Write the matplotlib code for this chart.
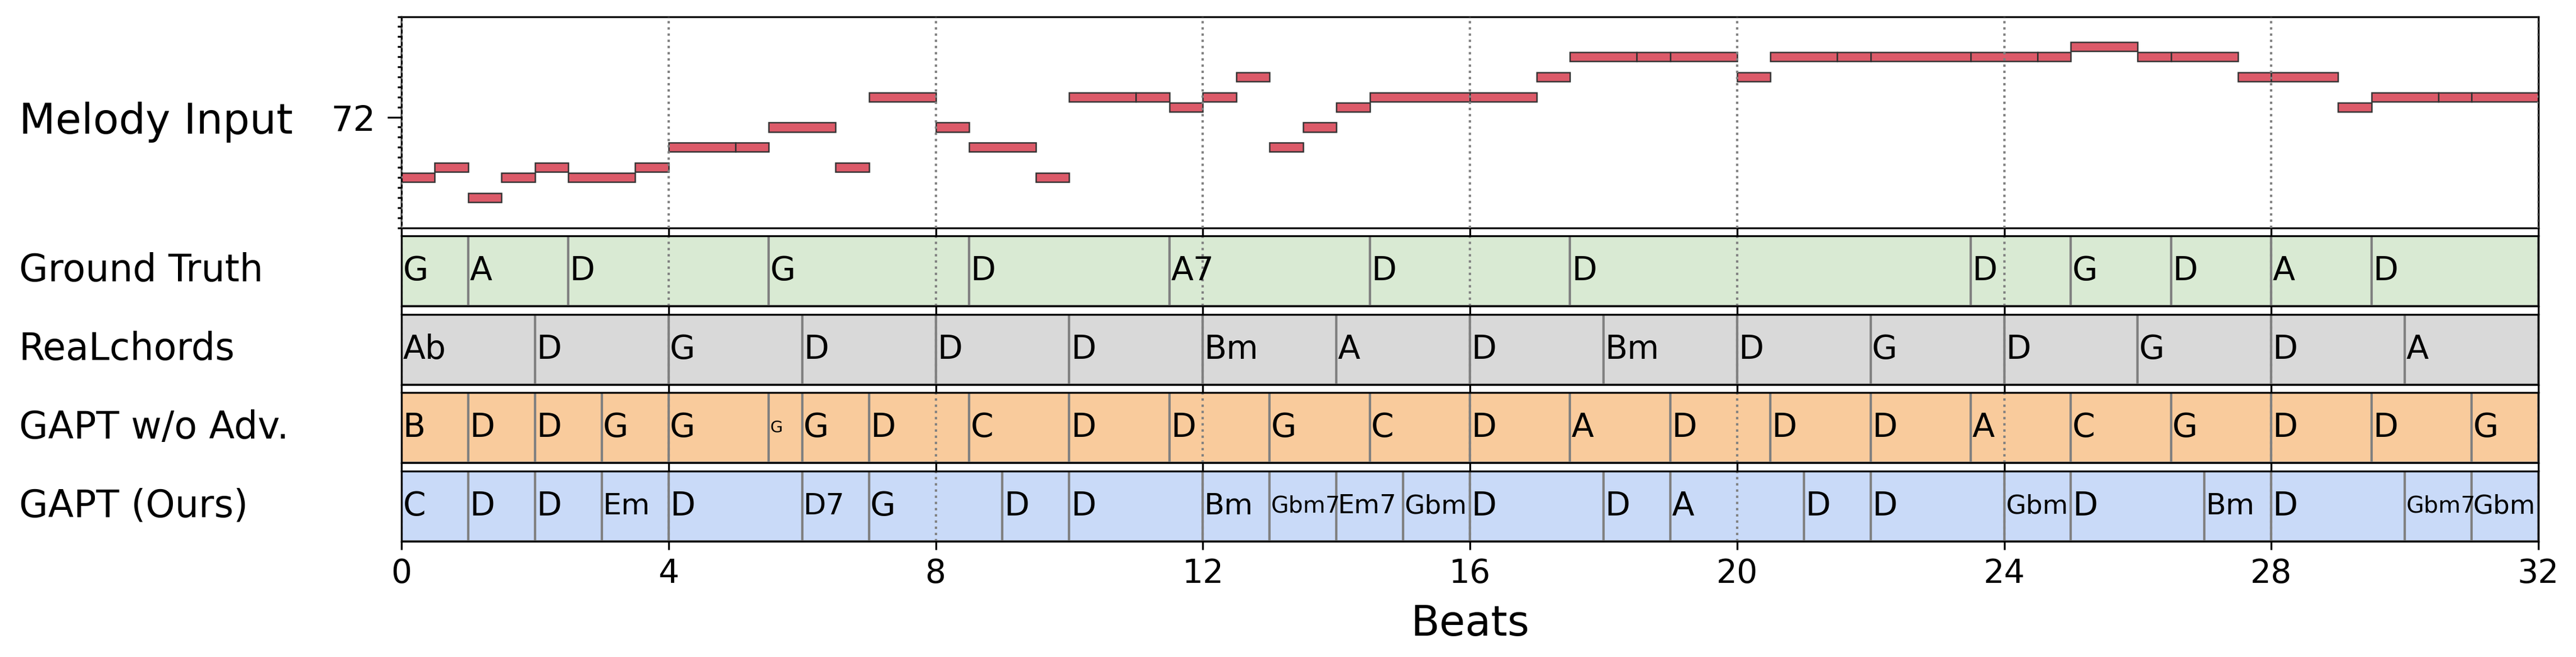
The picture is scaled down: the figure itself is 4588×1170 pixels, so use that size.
import matplotlib
matplotlib.use("Agg")
import matplotlib.pyplot as plt
from matplotlib.ticker import MultipleLocator

# ---------------- data ----------------
melody_starts = [0, 0.5, 1, 1.5, 2, 2.5, 3.5, 4, 5, 5.5, 6.5, 7, 8, 8.5, 9.5,
                 10, 11, 11.5, 12, 12.5, 13, 13.5, 14, 14.5, 16, 17, 17.5, 18.5,
                 19, 20, 20.5, 21.5, 22, 23.5, 24.5, 25, 26, 26.5, 27.5, 28, 29,
                 29.5, 30.5, 31]
melody_durs = [0.5, 0.5, 0.5, 0.5, 0.5, 1, 0.5, 1, 0.5, 1, 0.5, 1, 0.5, 1, 0.5,
               1, 0.5, 0.5, 0.5, 0.5, 0.5, 0.5, 0.5, 1.5, 1, 0.5, 1, 0.5,
               1, 0.5, 1, 0.5, 1.5, 1, 0.5, 1, 0.5, 1, 0.5, 1, 0.5,
               1, 0.5, 1]
melody_pitches = [66, 67, 64, 66, 67, 66, 67, 69, 69, 71, 67, 74, 71, 69, 66,
                  74, 74, 73, 74, 76, 69, 71, 73, 74, 74, 76, 78, 78,
                  78, 76, 78, 78, 78, 78, 78, 79, 78, 78, 76, 76, 73,
                  74, 74, 74]

total_beats = 32

gt_labels = ['G', 'A', 'D', 'G', 'D', 'A7', 'D', 'D', 'D', 'G', 'D', 'A', 'D']
gt_starts = [0, 1, 2.5, 5.5, 8.5, 11.5, 14.5, 17.5, 23.5, 25, 26.5, 28, 29.5]

rc_labels = ['Ab', 'D', 'G', 'D', 'D', 'D', 'Bm', 'A', 'D', 'Bm', 'D', 'G',
             'D', 'G', 'D', 'A']
rc_starts = [0, 2, 4, 6, 8, 10, 12, 14, 16, 18, 20, 22, 24, 26, 28, 30]

noadv_labels = ['B', 'D', 'D', 'G', 'G', 'G', 'G', 'D', 'C', 'D', 'D', 'G',
                'C', 'D', 'A', 'D', 'D', 'D', 'A', 'C', 'G', 'D', 'D', 'G']
noadv_starts = [0, 1, 2, 3, 4, 5.5, 6, 7, 8.5, 10, 11.5, 13,
                14.5, 16, 17.5, 19, 20.5, 22, 23.5, 25, 26.5, 28, 29.5, 31]

gapt_labels = ['C', 'D', 'D', 'Em', 'D', 'D7', 'G', 'D', 'D', 'Bm', 'Gbm7',
               'Em7', 'Gbm', 'D', 'D', 'A', 'D', 'D', 'Gbm', 'D', 'Bm', 'D',
               'Gbm7', 'Gbm']
gapt_starts = [0, 1, 2, 3, 4, 6, 7, 9, 10, 12, 13,
               14, 15, 16, 18, 19, 21, 22, 24, 25, 27, 28,
               30, 31]

row_names = ['Ground Truth', 'ReaLchords', 'GAPT w/o Adv.', 'GAPT (Ours)']
row_colors = ['#D9EAD3', '#D9D9D9', '#F9CB9C', '#C9DAF8']
row_labels = [gt_labels, rc_labels, noadv_labels, gapt_labels]
row_starts = [gt_starts, rc_starts, noadv_starts, gapt_starts]

# ---------------- figure ----------------
W, H, DPI = 4588, 1170, 300
fig = plt.figure(figsize=(W / DPI, H / DPI), dpi=DPI)


def px_axes(left, top, right, bottom):
    return fig.add_axes([left / W, 1 - bottom / H, (right - left) / W,
                         (bottom - top) / H])


AX_L, AX_R = 715, 4521

# melody axes
axm = px_axes(AX_L, 29.5, AX_R, 405.5)
axm.barh(melody_pitches, melody_durs, left=melody_starts, height=0.9,
         color='#DC5A69', edgecolor='#333333', linewidth=0.6, zorder=2)
pmin, pmax = min(melody_pitches), max(melody_pitches)
axm.set_ylim(pmin - 3, pmax + 3)
axm.set_xlim(0, total_beats)
axm.yaxis.set_major_locator(MultipleLocator(12))
axm.yaxis.set_minor_locator(MultipleLocator(1))
axm.tick_params(axis='y', which='major', length=6, width=0.8, labelsize=15, pad=5)
axm.tick_params(axis='y', which='minor', length=1.6, width=0.8)
axm.xaxis.set_major_locator(MultipleLocator(4))
axm.tick_params(axis='x', which='major', length=3.5, width=0.8, labelbottom=False)
for b in range(0, total_beats + 1, 4):
    axm.axvline(b, color='gray', linestyle=':', linewidth=1.0, zorder=3)
fig.text(34 / W, 1 - 217 / H, 'Melody Input', fontsize=18, ha='left', va='center')

# chord rows
ROW_TOP0, ROW_H, ROW_STEP = 420, 125, 139.7
BASE_FS = 14
for i, (name, color, labels, starts) in enumerate(zip(row_names, row_colors,
                                                         row_labels, row_starts)):
    top = ROW_TOP0 + i * ROW_STEP
    ax = px_axes(AX_L, top, AX_R, top + ROW_H)
    ends = starts[1:] + [total_beats]
    durs = [e - s for s, e in zip(starts, ends)]
    ax.barh([0.5] * len(starts), durs, left=starts, height=1.0, color=color,
            edgecolor='gray', linewidth=1.0, zorder=1)
    for b in range(0, total_beats + 1, 4):
        ax.axvline(b, color='gray', linestyle=':', linewidth=1.0, zorder=2)
    for s, d, lab in zip(starts, durs, labels):
        fs = min(BASE_FS, BASE_FS * d * (1.1 - 0.1 * len(lab)))
        ax.text(s + 0.02, 0.5, lab, fontsize=fs, ha='left', va='center', zorder=4)
    ax.set_xlim(0, total_beats)
    ax.set_ylim(0, 1)
    ax.set_yticks([])
    ax.xaxis.set_major_locator(MultipleLocator(4))
    last = i == len(row_names) - 1
    ax.tick_params(axis='x', which='major', length=3.5, width=0.8,
                   labelbottom=last, labelsize=14)
    if last:
        ax.set_xlabel('Beats', fontsize=18, labelpad=6)
    fig.text(34 / W, 1 - (top + ROW_H / 2) / H, name, fontsize=16,
             ha='left', va='center')

fig.savefig('out.png', dpi=DPI)
